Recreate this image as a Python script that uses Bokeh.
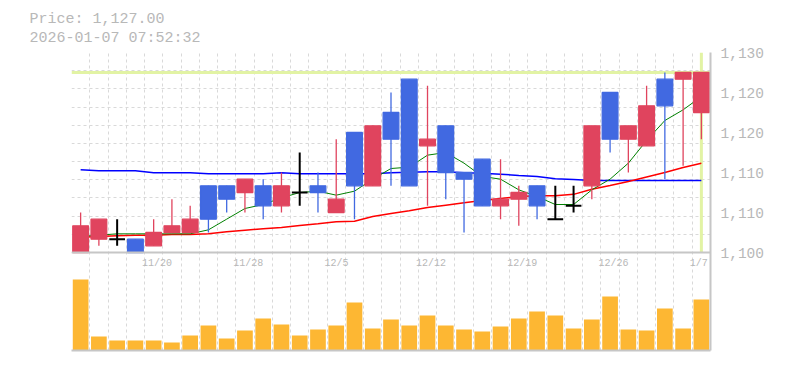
import numpy as np
from bokeh.plotting import figure
from bokeh.layouts import column
from bokeh.models import Range1d, FixedTicker, Span, Title, ColumnDataSource
from bokeh.core.properties import value
from bokeh.embed import file_html
from bokeh.resources import INLINE

# ---------------- data ----------------
dates = ["11/14", "11/17", "11/18", "11/19", "11/20", "11/21", "11/25", "11/26", "11/27", "11/28",
         "12/1", "12/2", "12/3", "12/4", "12/5", "12/8", "12/9", "12/10", "12/11", "12/12",
         "12/15", "12/16", "12/17", "12/18", "12/19", "12/22", "12/23", "12/24", "12/25", "12/26",
         "12/29", "12/30", "1/5", "1/6", "1/7"]
opens = [1100, 1102, 1102, 1102, 1101, 1103, 1103, 1110, 1110, 1109, 1110, 1107, 1109, 1110, 1106,
         1118, 1110, 1121, 1126, 1116, 1119, 1112, 1114, 1107, 1108, 1110, 1105, 1107, 1110, 1124,
         1117, 1116, 1126, 1126, 1121]
highs = [1106, 1105, 1105, 1102, 1105, 1108, 1107, 1110, 1110, 1111, 1111, 1112, 1115, 1112, 1117,
         1118, 1119, 1124, 1126, 1125, 1119, 1112, 1114, 1114, 1110, 1110, 1110, 1110, 1119, 1124,
         1119, 1125, 1127, 1127, 1127]
lows = [1100, 1101, 1101, 1100, 1101, 1103, 1103, 1103, 1106, 1106, 1105, 1106, 1107, 1106, 1106,
        1105, 1110, 1110, 1110, 1107, 1108, 1103, 1107, 1105, 1104, 1105, 1105, 1106, 1108, 1115,
        1112, 1116, 1111, 1113, 1117]
closes = [1104, 1105, 1102, 1100, 1103, 1104, 1105, 1105, 1108, 1111, 1107, 1110, 1109, 1109, 1108,
          1110, 1119, 1117, 1110, 1117, 1112, 1111, 1107, 1108, 1109, 1107, 1105, 1107, 1119, 1117,
          1119, 1122, 1122, 1127, 1127]
volumes = [21300, 4200, 3000, 3000, 3000, 2400, 4500, 7500, 3600, 6000, 9600, 7800, 4500, 6300, 7500,
           14400, 6600, 9300, 7500, 10500, 7500, 6300, 5700, 7200, 9600, 11700, 10500, 6600, 9300, 16200,
           6300, 6000, 12600, 6600, 15300]
ma_short = [1102.4, 1102.6, 1102.8, 1102.8, 1102.8, 1102.8, 1102.8, 1103.4, 1105.0, 1106.6, 1107.2,
            1108.2, 1109.0, 1109.2, 1108.6, 1109.2, 1111.0, 1112.6, 1112.8, 1114.6, 1115.0, 1113.4,
            1111.4, 1111.0, 1109.4, 1108.4, 1107.2, 1107.2, 1109.4, 1111.0, 1113.4, 1116.8, 1119.8,
            1121.4, 1123.4]
ma_mid = [1102.3, 1102.4, 1102.5, 1102.6, 1102.6, 1102.7, 1102.7, 1102.8, 1103.1, 1103.35, 1103.55,
          1103.75, 1104.05, 1104.3, 1104.6, 1104.7, 1105.4, 1105.85, 1106.25, 1106.75, 1107.1, 1107.45,
          1107.8, 1108.1, 1108.4, 1108.52, 1108.52, 1108.72, 1109.48, 1110.04, 1110.64, 1111.32,
          1112.0, 1112.76, 1113.4]
ma_long = [1112.4, 1112.25, 1112.25, 1112.25, 1111.95, 1111.95, 1111.95, 1111.8, 1111.8, 1111.8, 1111.8,
           1111.95, 1111.8, 1111.8, 1111.8, 1111.8, 1111.8, 1111.95, 1112.05, 1112.1, 1112.1, 1111.95,
           1111.9, 1111.75, 1111.55, 1111.4, 1111.05, 1110.95, 1110.8, 1110.8, 1110.8, 1110.8, 1110.8,
           1110.8, 1110.8]
date_tick_idx = [4, 9, 14, 19, 24, 29, 34]
date_tick_labels = ["11/20", "11/28", "12/5", "12/12", "12/19", "12/26", "1/7"]
price_ticks = [1100, 1106, 1112, 1118, 1124, 1130]
price_tick_labels = ["1,100", "1,110", "1,110", "1,120", "1,120", "1,130"]
price_lo, price_hi = 1100, 1130
vol_at_separator = 29400
timestamp = "2026-01-07 07:52:32"

# ---------------- layout constants ----------------
n = len(dates)
price_px, vol_px = 200, 98
frame_h = price_px + vol_px
UP, DOWN, FLAT = "#e0445e", "#4169e1", "#000000"
GRID = "#d9d9d9"
AXIS = "#c6c6c6"
TXT = "#b8b8b8"
MONO = "Liberation Mono"

# ---------------- header (price / timestamp) ----------------
head = figure(frame_width=639, frame_height=8, toolbar_location=None, output_backend="svg",
              title=None, min_border=0, x_axis_location=None, y_axis_location=None)
head.grid.visible = False
head.outline_line_color = None
for txt in (f"Price: {closes[-1]:,.2f}", timestamp):
    head.add_layout(Title(text=txt, align="left", offset=-42, text_font=MONO,
                          text_font_size="15px", text_font_style="normal",
                          text_color=TXT, standoff=0), "below")

# ---------------- main chart ----------------
idx = list(range(n))
y_lo = price_lo - (price_hi - price_lo) * vol_px / price_px

p = figure(frame_width=639, frame_height=frame_h,
           x_range=Range1d(-0.5, n - 0.5), y_range=Range1d(y_lo, price_hi),
           y_axis_location="right", toolbar_location=None, output_backend="svg",
           title=None, min_border_left=71, min_border_right=6, min_border_top=6,
           min_border_bottom=4)
p.extra_y_ranges = {"vol": Range1d(0, vol_at_separator * frame_h / vol_px)}
p.outline_line_color = None
p.background_fill_color = "white"
p.border_fill_color = "white"

# axes
xa = p.xaxis[0]
xa.ticker = FixedTicker(ticks=[])
xa.axis_line_color = AXIS
xa.axis_line_width = 2
xa.major_tick_line_color = None
xa.minor_tick_line_color = None

ya = p.yaxis[0]
ya.ticker = FixedTicker(ticks=price_ticks)
ya.major_label_overrides = dict(zip(price_ticks, price_tick_labels))
ya.axis_line_color = AXIS
ya.axis_line_width = 2
ya.major_tick_line_color = None
ya.minor_tick_line_color = None
ya.major_tick_out = 0
ya.major_label_standoff = 10
ya.major_label_text_font = MONO
ya.major_label_text_font_size = "14.5px"
ya.major_label_text_color = TXT

# grids
p.xgrid.ticker = FixedTicker(ticks=[i - 0.5 for i in range(n)])
p.ygrid.ticker = FixedTicker(ticks=list(np.linspace(price_lo, price_hi, 12)))
for g in (p.xgrid, p.ygrid):
    g.grid_line_color = GRID
    g.grid_line_dash = "3 3"
    g.grid_line_width = 1

# crosshair
p.add_layout(Span(location=closes[-1], dimension="width", line_color="#e2f3a4",
                  line_width=3, level="underlay"))
p.segment(x0=[idx[-1]], y0=[price_lo], x1=[idx[-1]], y1=[price_hi],
          line_color="#e2f3a4", line_width=3)

# moving averages (under candles)
p.line(idx, ma_long, line_color="#0000ff", line_width=1.5)
p.line(idx, ma_mid, line_color="#ff0000", line_width=1.5)
p.line(idx, ma_short, line_color="#008000", line_width=1)

# candles
colors = [UP if c > o else (DOWN if c < o else FLAT) for o, c in zip(opens, closes)]
wick_w = [2 if c == o else 1.3 for o, c in zip(opens, closes)]
src = ColumnDataSource(dict(x=idx, o=opens, h=highs, l=lows, c=closes,
                            top=[max(o, c) for o, c in zip(opens, closes)],
                            bot=[min(o, c) for o, c in zip(opens, closes)],
                            color=colors, ww=wick_w, vol=volumes))
p.segment(x0="x", y0="h", x1="x", y1="l", line_color="color", line_width="ww", source=src)
p.vbar(x="x", width=0.86, top="top", bottom="bot", fill_color="color", line_color="color",
       line_width="ww", source=src)

# volume
p.vbar(x="x", width=0.86, top="vol", bottom=0, fill_color="#fdb733", line_color=None,
       y_range_name="vol", source=src)

# separator between panels
p.add_layout(Span(location=price_lo, dimension="width", line_color=AXIS, line_width=2))

# date labels
p.text(x=[i - 0.5 for i in date_tick_idx], y=[price_lo] * len(date_tick_idx), text=date_tick_labels,
       text_align="left", text_baseline="middle", x_offset=-2.5, y_offset=11,
       text_font=value(MONO), text_font_size="10px", text_color=TXT)

layout = column(head, p, spacing=0)
open("out.html", "w").write(file_html(layout, INLINE))
